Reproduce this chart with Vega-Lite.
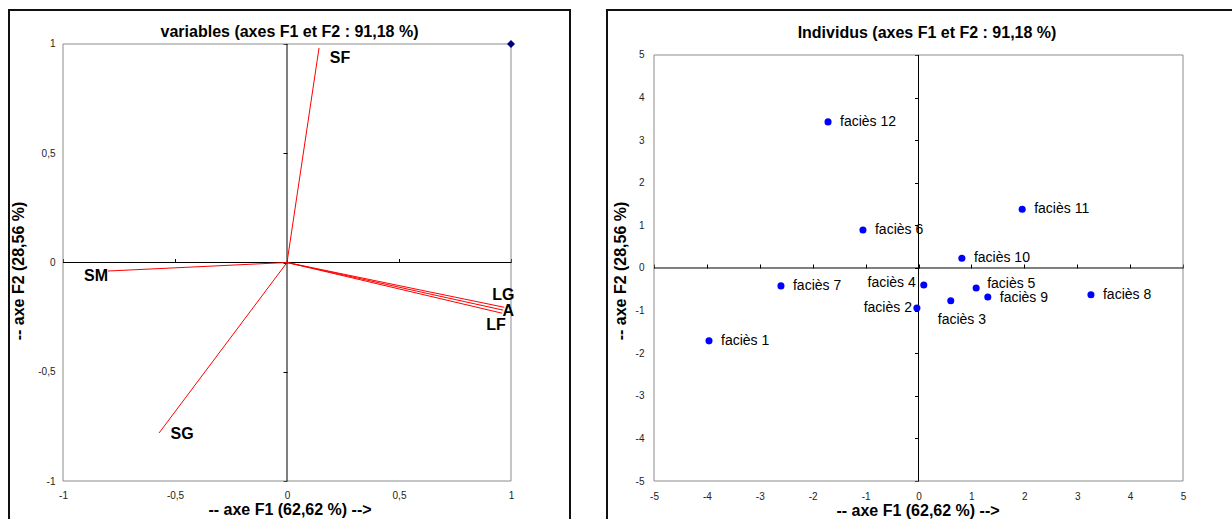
{
  "$schema": "https://vega.github.io/schema/vega-lite/v6.json",
  "padding": {"left": 8, "top": 9, "right": 0, "bottom": 0},
  "spacing": 35,
  "config": {
    "font": "Liberation Sans",
    "view": {"stroke": "#111111", "strokeWidth": 2},
    "axis": {"grid": false, "domain": false, "ticks": false, "tickSize": 0, "labelFont": "Liberation Sans", "labelFontSize": 10, "labelColor": "#222222", "titleFont": "Liberation Sans", "titleFontSize": 16, "titleFontWeight": "bold", "titleColor": "#000000"},
    "title": {"font": "Liberation Sans", "fontSize": 16, "fontWeight": "bold", "color": "#000000", "anchor": "middle", "baseline": "middle", "offset": -30}
  },
  "datasets": {
    "vars": [
      {"var": "SF", "x": 0.143, "y": 0.982},
      {"var": "SM", "x": -0.799, "y": -0.039},
      {"var": "SG", "x": -0.571, "y": -0.780},
      {"var": "LG", "x": 0.970, "y": -0.205},
      {"var": "A", "x": 0.965, "y": -0.218},
      {"var": "LF", "x": 0.960, "y": -0.232}
    ],
    "marker": [{"x": 1, "y": 1}],
    "ind": [
      {"name": "faciès 1", "x": -3.96, "y": -1.71},
      {"name": "faciès 2", "x": -0.03, "y": -0.94},
      {"name": "faciès 3", "x": 0.61, "y": -0.77},
      {"name": "faciès 4", "x": 0.10, "y": -0.40},
      {"name": "faciès 5", "x": 1.09, "y": -0.47},
      {"name": "faciès 6", "x": -1.05, "y": 0.89},
      {"name": "faciès 7", "x": -2.60, "y": -0.42},
      {"name": "faciès 8", "x": 3.26, "y": -0.63},
      {"name": "faciès 9", "x": 1.31, "y": -0.68},
      {"name": "faciès 10", "x": 0.82, "y": 0.23},
      {"name": "faciès 11", "x": 1.96, "y": 1.38},
      {"name": "faciès 12", "x": -1.71, "y": 3.43}
    ]
  },
  "hconcat": [
    {
      "width": 561,
      "height": 521,
      "title": {"text": "variables (axes F1 et F2 : 91,18 %)"},
      "resolve": {"axis": {"x": "independent", "y": "independent"}},
      "layer": [
        {
          "data": {"values": [{}]},
          "mark": {"type": "rect", "filled": false, "stroke": "#8c8c8c", "strokeWidth": 1},
          "encoding": {
            "x": {"datum": -1, "type": "quantitative", "scale": {"domain": [-1.2411, 1.2634], "nice": false, "zero": false},
              "axis": {"orient": "bottom", "offset": -50, "values": [-1, -0.5, 0, 0.5, 1], "labelPadding": 9, "labelExpr": "replace(toString(datum.value), '.', ',')", "title": "-- axe F1 (62,62 %) -->", "titlePadding": 1}},
            "x2": {"datum": 1},
            "y": {"datum": -1, "type": "quantitative", "scale": {"domain": [-1.2288, 1.1556], "nice": false, "zero": false},
              "axis": {"orient": "left", "offset": -54, "values": [-1, -0.5, 0, 0.5, 1], "labelPadding": 8, "labelExpr": "replace(toString(datum.value), '.', ',')", "title": "-- axe F2 (28,56 %)", "titlePadding": 11}},
            "y2": {"datum": 1}
          }
        },
        {
          "data": {"values": [{}]},
          "mark": {"type": "rule", "color": "#000000", "strokeWidth": 1},
          "encoding": {
            "x": {"datum": 0, "type": "quantitative", "scale": {"domain": [-1.2411, 1.2634], "nice": false, "zero": false},
              "axis": {"orient": "bottom", "offset": -268.5, "values": [-1, -0.5, 0, 0.5, 1], "ticks": true, "tickSize": -4, "tickColor": "#000000", "labels": false, "title": null}},
            "y": {"datum": -1, "type": "quantitative", "scale": {"domain": [-1.2288, 1.1556], "nice": false, "zero": false},
              "axis": {"orient": "left", "offset": -278, "values": [-1, -0.5, 0, 0.5, 1], "ticks": true, "tickSize": 4, "tickColor": "#000000", "labels": false, "title": null}},
            "y2": {"datum": 1}
          }
        },
        {
          "data": {"values": [{}]},
          "mark": {"type": "rule", "color": "#000000", "strokeWidth": 1},
          "encoding": {
            "x": {"datum": -1, "type": "quantitative", "scale": {"domain": [-1.2411, 1.2634], "nice": false, "zero": false}, "axis": null},
            "x2": {"datum": 1},
            "y": {"datum": 0, "type": "quantitative", "scale": {"domain": [-1.2288, 1.1556], "nice": false, "zero": false}, "axis": null}
          }
        },
        {
          "data": {"name": "vars"},
          "mark": {"type": "rule", "color": "#ff0000", "strokeWidth": 1},
          "encoding": {
            "x": {"field": "x", "type": "quantitative", "scale": {"domain": [-1.2411, 1.2634], "nice": false, "zero": false}, "axis": null},
            "y": {"field": "y", "type": "quantitative", "scale": {"domain": [-1.2288, 1.1556], "nice": false, "zero": false}, "axis": null},
            "x2": {"datum": 0},
            "y2": {"datum": 0}
          }
        },
        {
          "data": {"name": "marker"},
          "mark": {"type": "point", "shape": "diamond", "filled": true, "color": "#000080", "size": 65, "opacity": 1},
          "encoding": {
            "x": {"field": "x", "type": "quantitative", "scale": {"domain": [-1.2411, 1.2634], "nice": false, "zero": false}, "axis": null},
            "y": {"field": "y", "type": "quantitative", "scale": {"domain": [-1.2288, 1.1556], "nice": false, "zero": false}, "axis": null}
          }
        },
        {
          "data": {"name": "vars"},
          "transform": [{"filter": "datum.var === 'SF'"}],
          "mark": {"type": "text", "fontSize": 16, "fontWeight": "bold", "color": "#000000", "dx": 21, "dy": 10},
          "encoding": {
            "x": {"field": "x", "type": "quantitative", "scale": {"domain": [-1.2411, 1.2634], "nice": false, "zero": false}, "axis": null},
            "y": {"field": "y", "type": "quantitative", "scale": {"domain": [-1.2288, 1.1556], "nice": false, "zero": false}, "axis": null},
            "text": {"field": "var"}
          }
        },
        {
          "data": {"name": "vars"},
          "transform": [{"filter": "datum.var === 'SM'"}],
          "mark": {"type": "text", "fontSize": 16, "fontWeight": "bold", "color": "#000000", "dx": -12, "dy": 5},
          "encoding": {
            "x": {"field": "x", "type": "quantitative", "scale": {"domain": [-1.2411, 1.2634], "nice": false, "zero": false}, "axis": null},
            "y": {"field": "y", "type": "quantitative", "scale": {"domain": [-1.2288, 1.1556], "nice": false, "zero": false}, "axis": null},
            "text": {"field": "var"}
          }
        },
        {
          "data": {"name": "vars"},
          "transform": [{"filter": "datum.var === 'SG'"}],
          "mark": {"type": "text", "fontSize": 16, "fontWeight": "bold", "color": "#000000", "dx": 23, "dy": 1},
          "encoding": {
            "x": {"field": "x", "type": "quantitative", "scale": {"domain": [-1.2411, 1.2634], "nice": false, "zero": false}, "axis": null},
            "y": {"field": "y", "type": "quantitative", "scale": {"domain": [-1.2288, 1.1556], "nice": false, "zero": false}, "axis": null},
            "text": {"field": "var"}
          }
        },
        {
          "data": {"name": "vars"},
          "transform": [{"filter": "datum.var === 'LG'"}],
          "mark": {"type": "text", "fontSize": 16, "fontWeight": "bold", "color": "#000000", "dx": -1, "dy": -12},
          "encoding": {
            "x": {"field": "x", "type": "quantitative", "scale": {"domain": [-1.2411, 1.2634], "nice": false, "zero": false}, "axis": null},
            "y": {"field": "y", "type": "quantitative", "scale": {"domain": [-1.2288, 1.1556], "nice": false, "zero": false}, "axis": null},
            "text": {"field": "var"}
          }
        },
        {
          "data": {"name": "vars"},
          "transform": [{"filter": "datum.var === 'A'"}],
          "mark": {"type": "text", "fontSize": 16, "fontWeight": "bold", "color": "#000000", "dx": 5, "dy": 1},
          "encoding": {
            "x": {"field": "x", "type": "quantitative", "scale": {"domain": [-1.2411, 1.2634], "nice": false, "zero": false}, "axis": null},
            "y": {"field": "y", "type": "quantitative", "scale": {"domain": [-1.2288, 1.1556], "nice": false, "zero": false}, "axis": null},
            "text": {"field": "var"}
          }
        },
        {
          "data": {"name": "vars"},
          "transform": [{"filter": "datum.var === 'LF'"}],
          "mark": {"type": "text", "fontSize": 16, "fontWeight": "bold", "color": "#000000", "dx": -6, "dy": 12},
          "encoding": {
            "x": {"field": "x", "type": "quantitative", "scale": {"domain": [-1.2411, 1.2634], "nice": false, "zero": false}, "axis": null},
            "y": {"field": "y", "type": "quantitative", "scale": {"domain": [-1.2288, 1.1556], "nice": false, "zero": false}, "axis": null},
            "text": {"field": "var"}
          }
        }
      ]
    },
    {
      "width": 640,
      "height": 521,
      "title": {"text": "Individus (axes F1 et F2 : 91,18 %)", "offset": -31},
      "resolve": {"axis": {"x": "independent", "y": "independent"}},
      "layer": [
        {
          "data": {"values": [{}]},
          "mark": {"type": "rect", "filled": false, "stroke": "#8c8c8c", "strokeWidth": 1},
          "encoding": {
            "x": {"datum": -5, "type": "quantitative", "scale": {"domain": [-5.8885, 6.2098], "nice": false, "zero": false},
              "axis": {"orient": "bottom", "offset": -50, "values": [-5, -4, -3, -2, -1, 0, 1, 2, 3, 4, 5], "labelPadding": 10, "labelExpr": "toString(datum.value)", "title": "-- axe F1 (62,62 %) -->", "titlePadding": 1, "titleX": 310.5}},
            "x2": {"datum": 5},
            "y": {"datum": -5, "type": "quantitative", "scale": {"domain": [-6.1737, 6.0563], "nice": false, "zero": false},
              "axis": {"orient": "left", "offset": -47, "values": [-5, -4, -3, -2, -1, 0, 1, 2, 3, 4, 5], "labelPadding": 10, "labelExpr": "toString(datum.value)", "title": "-- axe F2 (28,56 %)", "titlePadding": 7}},
            "y2": {"datum": 5}
          }
        },
        {
          "data": {"values": [{}]},
          "mark": {"type": "rule", "color": "#000000", "strokeWidth": 1},
          "encoding": {
            "x": {"datum": 0, "type": "quantitative", "scale": {"domain": [-5.8885, 6.2098], "nice": false, "zero": false},
              "axis": {"orient": "bottom", "offset": -263, "values": [-5, -4, -3, -2, -1, 0, 1, 2, 3, 4, 5], "ticks": true, "tickSize": -4, "tickColor": "#000000", "labels": false, "title": null}},
            "y": {"datum": -5, "type": "quantitative", "scale": {"domain": [-6.1737, 6.0563], "nice": false, "zero": false},
              "axis": {"orient": "left", "offset": -311.5, "values": [-5, -4, -3, -2, -1, 0, 1, 2, 3, 4, 5], "ticks": true, "tickSize": 4, "tickColor": "#000000", "labels": false, "title": null}},
            "y2": {"datum": 5}
          }
        },
        {
          "data": {"values": [{}]},
          "mark": {"type": "rule", "color": "#000000", "strokeWidth": 1},
          "encoding": {
            "x": {"datum": -5, "type": "quantitative", "scale": {"domain": [-5.8885, 6.2098], "nice": false, "zero": false}, "axis": null},
            "x2": {"datum": 5},
            "y": {"datum": 0, "type": "quantitative", "scale": {"domain": [-6.1737, 6.0563], "nice": false, "zero": false}, "axis": null}
          }
        },
        {
          "data": {"name": "ind"},
          "mark": {"type": "circle", "color": "#0000ff", "size": 50, "opacity": 1},
          "encoding": {
            "x": {"field": "x", "type": "quantitative", "scale": {"domain": [-5.8885, 6.2098], "nice": false, "zero": false}, "axis": null},
            "y": {"field": "y", "type": "quantitative", "scale": {"domain": [-6.1737, 6.0563], "nice": false, "zero": false}, "axis": null}
          }
        },
        {
          "data": {"name": "ind"},
          "transform": [{"filter": "datum.name !== 'faciès 2' && datum.name !== 'faciès 3' && datum.name !== 'faciès 4' && datum.name !== 'faciès 5' && datum.name !== 'faciès 9'"}],
          "mark": {"type": "text", "fontSize": 14, "color": "#000000", "align": "left", "dx": 12},
          "encoding": {
            "x": {"field": "x", "type": "quantitative", "scale": {"domain": [-5.8885, 6.2098], "nice": false, "zero": false}, "axis": null},
            "y": {"field": "y", "type": "quantitative", "scale": {"domain": [-6.1737, 6.0563], "nice": false, "zero": false}, "axis": null},
            "text": {"field": "name"}
          }
        },
        {
          "data": {"name": "ind"},
          "transform": [{"filter": "datum.name === 'faciès 9'"}],
          "mark": {"type": "text", "fontSize": 14, "color": "#000000", "align": "left", "dx": 12, "dy": 1},
          "encoding": {
            "x": {"field": "x", "type": "quantitative", "scale": {"domain": [-5.8885, 6.2098], "nice": false, "zero": false}, "axis": null},
            "y": {"field": "y", "type": "quantitative", "scale": {"domain": [-6.1737, 6.0563], "nice": false, "zero": false}, "axis": null},
            "text": {"field": "name"}
          }
        },
        {
          "data": {"name": "ind"},
          "transform": [{"filter": "datum.name === 'faciès 5'"}],
          "mark": {"type": "text", "fontSize": 14, "color": "#000000", "align": "left", "dx": 11, "dy": -4},
          "encoding": {
            "x": {"field": "x", "type": "quantitative", "scale": {"domain": [-5.8885, 6.2098], "nice": false, "zero": false}, "axis": null},
            "y": {"field": "y", "type": "quantitative", "scale": {"domain": [-6.1737, 6.0563], "nice": false, "zero": false}, "axis": null},
            "text": {"field": "name"}
          }
        },
        {
          "data": {"name": "ind"},
          "transform": [{"filter": "datum.name === 'faciès 4'"}],
          "mark": {"type": "text", "fontSize": 14, "color": "#000000", "align": "right", "dx": -8, "dy": -2},
          "encoding": {
            "x": {"field": "x", "type": "quantitative", "scale": {"domain": [-5.8885, 6.2098], "nice": false, "zero": false}, "axis": null},
            "y": {"field": "y", "type": "quantitative", "scale": {"domain": [-6.1737, 6.0563], "nice": false, "zero": false}, "axis": null},
            "text": {"field": "name"}
          }
        },
        {
          "data": {"name": "ind"},
          "transform": [{"filter": "datum.name === 'faciès 2'"}],
          "mark": {"type": "text", "fontSize": 14, "color": "#000000", "align": "right", "dx": -5, "dy": 0},
          "encoding": {
            "x": {"field": "x", "type": "quantitative", "scale": {"domain": [-5.8885, 6.2098], "nice": false, "zero": false}, "axis": null},
            "y": {"field": "y", "type": "quantitative", "scale": {"domain": [-6.1737, 6.0563], "nice": false, "zero": false}, "axis": null},
            "text": {"field": "name"}
          }
        },
        {
          "data": {"name": "ind"},
          "transform": [{"filter": "datum.name === 'faciès 3'"}],
          "mark": {"type": "text", "fontSize": 14, "color": "#000000", "align": "left", "dx": -13, "dy": 19},
          "encoding": {
            "x": {"field": "x", "type": "quantitative", "scale": {"domain": [-5.8885, 6.2098], "nice": false, "zero": false}, "axis": null},
            "y": {"field": "y", "type": "quantitative", "scale": {"domain": [-6.1737, 6.0563], "nice": false, "zero": false}, "axis": null},
            "text": {"field": "name"}
          }
        }
      ]
    }
  ]
}
